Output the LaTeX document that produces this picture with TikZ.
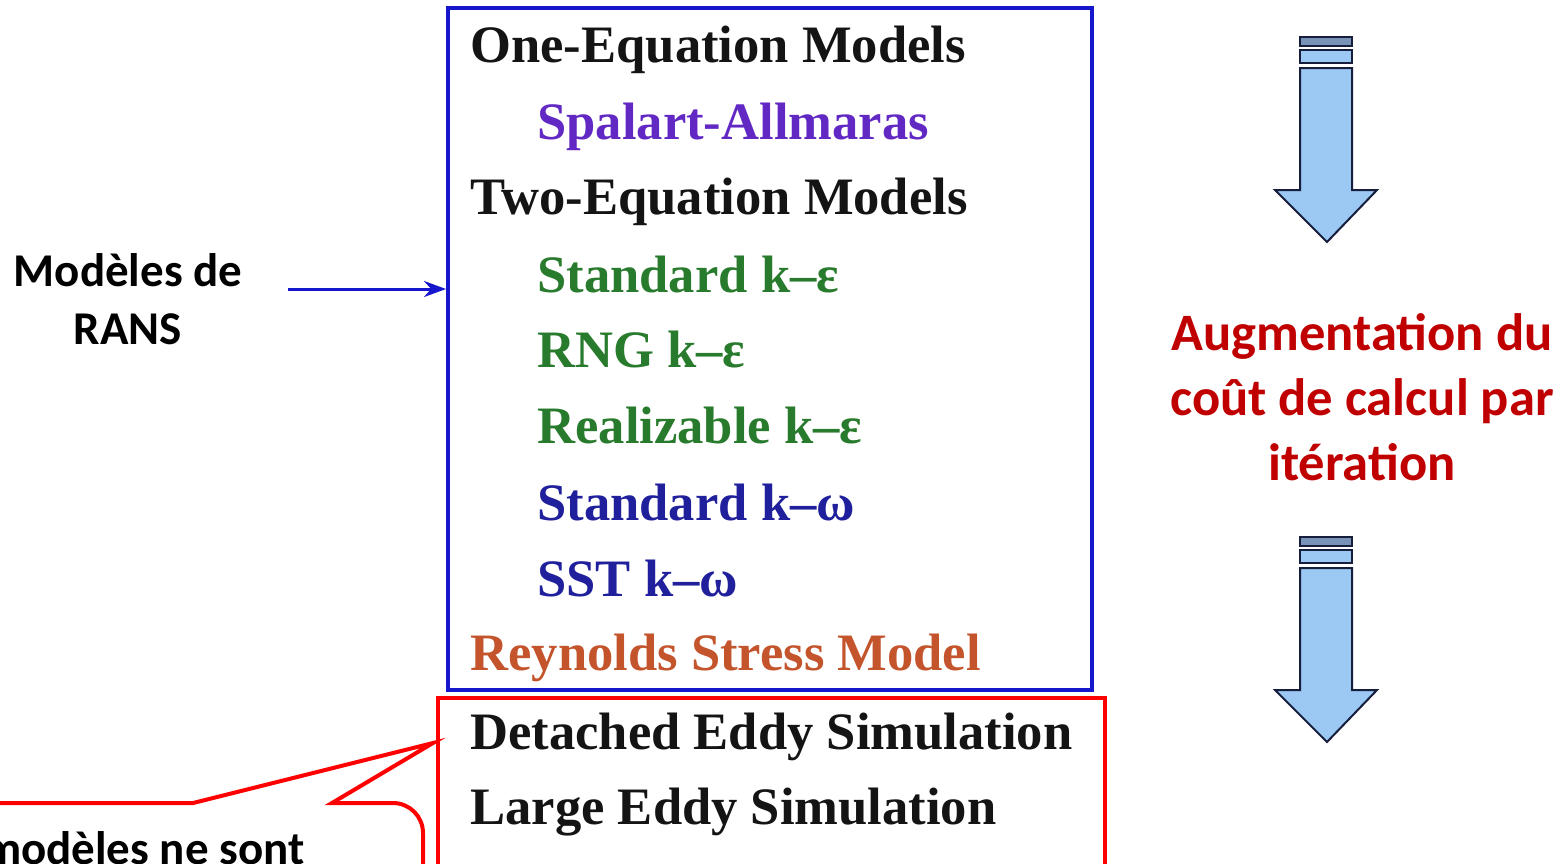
\documentclass[tikz,border=0pt]{standalone}
\usepackage{fontspec}
\setmainfont{Liberation Serif}
\newfontfamily\calibri{Carlito}
\usetikzlibrary{arrows.meta}
\definecolor{ransblue}{RGB}{22,22,204}
\definecolor{lesred}{RGB}{255,0,0}
\definecolor{costred}{RGB}{192,0,0}
\definecolor{saviolet}{RGB}{98,40,196}
\definecolor{kegreen}{RGB}{40,122,44}
\definecolor{kwblue}{RGB}{32,32,156}
\definecolor{rsmorange}{RGB}{196,84,44}
\definecolor{textblack}{RGB}{20,20,20}
\definecolor{arrowblue}{RGB}{156,200,244}
\definecolor{arrowband}{RGB}{120,146,184}
\definecolor{arrowline}{RGB}{22,30,60}
\begin{document}
\begin{tikzpicture}[x=0.5pt,y=-0.5pt,
  model/.style={anchor=base west,inner sep=0,text=textblack,font=\fontsize{26.3}{30}\selectfont\bfseries},
  side/.style={align=center,inner sep=0,font=\calibri\bfseries\fontsize{23.5}{29}\selectfont},
  costarrow/.style={fill=arrowblue,draw=arrowline,line width=1pt}]
\useasboundingbox (0,0) rectangle (1564,863);
\clip (0,0) rectangle (1564,863);
\node[draw=ransblue,line width=2pt,minimum width=322pt,minimum height=341pt,inner sep=0] (rans) at (770,349) {};
\node[draw=lesred,line width=2pt,minimum width=333.5pt,minimum height=84pt,inner sep=0] (les) at (771.5,782) {};
\node[model] (oneeq) at (470,62) {One-Equation Models};
\node[model,text=saviolet] (sa) at (537,139) {Spalart-Allmaras};
\node[model] (twoeq) at (470,214) {Two-Equation Models};
\node[model,text=kegreen] (ske) at (537,292) {Standard k–ε};
\node[model,text=kegreen] (rng) at (537,367) {RNG k–ε};
\node[model,text=kegreen] (rke) at (537,443) {Realizable k–ε};
\node[model,text=kwblue] (skw) at (537,520) {Standard k–ω};
\node[model,text=kwblue] (sst) at (537,596) {SST k–ω};
\node[model,text=rsmorange] (rsm) at (470,670) {Reynolds Stress Model};
\node[model] (des) at (470,749) {Detached Eddy Simulation};
\node[model] (lesm) at (470,824) {Large Eddy Simulation};
\node[side] (ranslabel) at (128,299) {Modèles de\\RANS};
\coordinate (ranstail) at (288,289);
\draw[ransblue,line width=1.5pt,-{Stealth[length=11pt,width=8pt]}] (ranstail) -- (ranstail -| rans.west);
\node[side,text=costred,font=\calibri\bfseries\fontsize{26.3}{32.5}\selectfont] (cost) at (1362,397) {Augmentation du\\coût de calcul par\\itération};
\foreach \dy in {0,500}{
  \draw[costarrow,shift={(0,\dy)}] (1300,68) -- (1352,68) -- (1352,190) -- (1377,190) -- (1327,242) -- (1275,190) -- (1300,190) -- cycle;
  \draw[costarrow,fill=arrowband,shift={(0,\dy)}] (1300,37) rectangle (1352,46);
  \draw[costarrow,shift={(0,\dy)}] (1300,50) rectangle (1352,63);
}
% bulle vers la simulation des grandes echelles
\coordinate (calltip) at (433,743);
\draw[lesred,line width=2pt] (-10,803) -- (193,803) -- (calltip) -- (332,803) -- (393,803) arc[start angle=-90,end angle=0,radius=30] -- (423,880);
\node[side,anchor=base east] (callnote) at (305,864) {modèles ne sont};
\end{tikzpicture}
\end{document}
